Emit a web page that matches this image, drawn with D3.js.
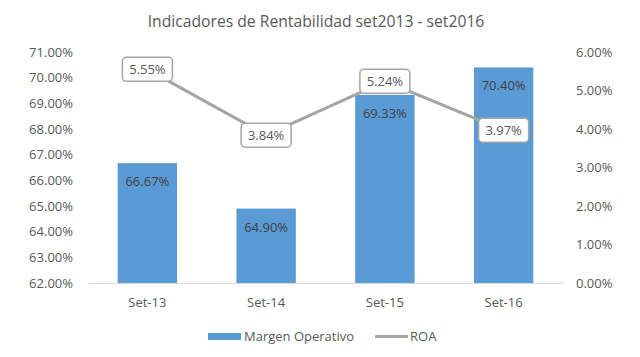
<!DOCTYPE html>
<html><head><meta charset="utf-8">
<script src="https://cdn.jsdelivr.net/npm/d3@7/dist/d3.min.js"></script>
<style>
html,body{margin:0;padding:0;background:#fff;}
svg{display:block;font-family:"Open Sans",sans-serif;}
</style></head>
<body>
<svg id="c" width="640" height="357"></svg>
<script>
const title = "Indicadores de Rentabilidad set2013 - set2016";
const categories = ["Set-13","Set-14","Set-15","Set-16"];
const margenOperativo = [66.67, 64.90, 69.33, 70.40];
const roa = [5.55, 3.84, 5.24, 3.97];
const leftTicks = [62,63,64,65,66,67,68,69,70,71];
const rightTicks = [0,1,2,3,4,5,6];
const seriesNames = ["Margen Operativo","ROA"];

const svg = d3.select("#c");
const pLeft = 88, pRight = 563, pTop = 52, pBottom = 283;
const barColor = "#5B9BD5", lineColor = "#A5A5A5", textColor = "#595959";

const x = d3.scaleBand().domain(categories).range([pLeft, pRight]).paddingInner(0.5).paddingOuter(0.25);
const yL = d3.scaleLinear().domain([62, 71]).range([pBottom, pTop]);
const yR = d3.scaleLinear().domain([0, 6]).range([pBottom, pTop]);
const pct = d => d.toFixed(2) + "%";

svg.append("text").attr("x", 316).attr("y", 27).attr("text-anchor","middle")
  .attr("font-size", 15.7).attr("fill", textColor).text(title);

// left axis
const gL = svg.append("g").attr("transform", `translate(${pLeft},0)`)
  .call(d3.axisLeft(yL).tickValues(leftTicks).tickFormat(pct).tickSize(0).tickPadding(15));
gL.select(".domain").remove();
gL.selectAll("text").attr("font-size", 13).attr("fill", textColor).attr("font-family","Open Sans");

// right axis
const gR = svg.append("g").attr("transform", `translate(${pRight},0)`)
  .call(d3.axisRight(yR).tickValues(rightTicks).tickFormat(pct).tickSize(0).tickPadding(13));
gR.select(".domain").remove();
gR.selectAll("text").attr("font-size", 13).attr("fill", textColor).attr("font-family","Open Sans");

// bars
svg.append("g").selectAll("rect").data(margenOperativo).join("rect")
  .attr("x", (d,i) => x(categories[i])).attr("width", x.bandwidth())
  .attr("y", d => yL(d)).attr("height", d => pBottom - yL(d)).attr("fill", barColor);

// baseline
const gX = svg.append("g").attr("transform", `translate(0,${pBottom})`)
  .call(d3.axisBottom(x).tickSize(0).tickPadding(15));
gX.select(".domain").attr("stroke", "#D9D9D9").attr("stroke-width", 1);
gX.selectAll("text").attr("font-size", 13).attr("fill", textColor).attr("font-family","Open Sans");

// bar labels
svg.append("g").selectAll("text").data(margenOperativo).join("text")
  .attr("x", (d,i) => x(categories[i]) + x.bandwidth()/2)
  .attr("y", d => yL(d) + 23).attr("text-anchor","middle")
  .attr("font-size", 13).attr("fill", "#404040").text(pct);

// ROA line
const cx = i => x(categories[i]) + x.bandwidth()/2;
svg.append("path").datum(roa)
  .attr("d", d3.line().x((d,i) => cx(i)).y(d => yR(d)))
  .attr("fill","none").attr("stroke", lineColor).attr("stroke-width", 3).attr("stroke-linejoin","round");

// ROA labels
const lg = svg.append("g").selectAll("g").data(roa).join("g")
  .attr("transform", (d,i) => `translate(${cx(i)},${yR(d)})`);
lg.append("rect").attr("x", -25).attr("y", -12).attr("width", 50).attr("height", 24)
  .attr("rx", 4).attr("fill", "#fff").attr("stroke", lineColor).attr("stroke-width", 1.5);
lg.append("text").attr("y", 5).attr("text-anchor","middle").attr("font-size", 13)
  .attr("fill", textColor).text(pct);

// legend
const leg = svg.append("g");
leg.append("rect").attr("x", 208).attr("y", 333).attr("width", 33).attr("height", 7).attr("fill", barColor);
leg.append("text").attr("x", 244).attr("y", 341).attr("font-size", 13).attr("fill", textColor).text(seriesNames[0]);
leg.append("line").attr("x1", 375).attr("x2", 408).attr("y1", 336.5).attr("y2", 336.5)
  .attr("stroke", lineColor).attr("stroke-width", 3);
leg.append("text").attr("x", 410).attr("y", 341).attr("font-size", 13).attr("fill", textColor).text(seriesNames[1]);
</script>
</body></html>
